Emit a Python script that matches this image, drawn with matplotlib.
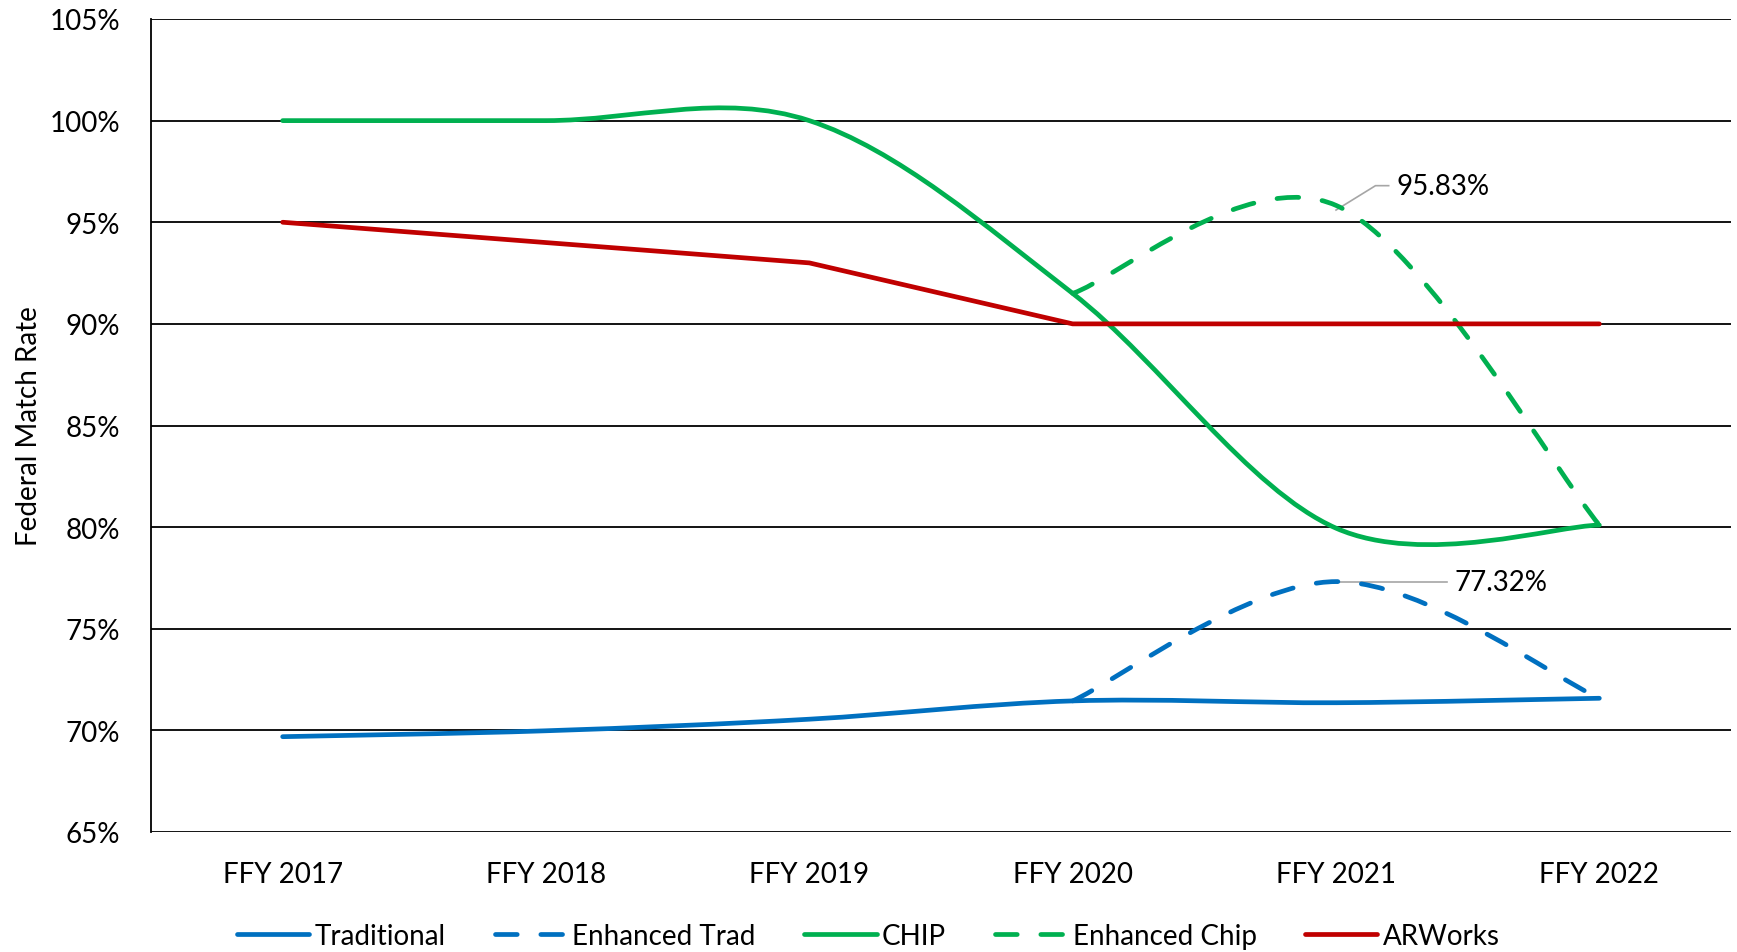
import numpy as np
import matplotlib
matplotlib.use("Agg")
import matplotlib.pyplot as plt
from matplotlib.path import Path
from matplotlib.patches import PathPatch
from matplotlib.lines import Line2D

plt.rcParams["font.family"] = ["Lato", "DejaVu Sans"]

years = ["FFY 2017", "FFY 2018", "FFY 2019", "FFY 2020", "FFY 2021", "FFY 2022"]
traditional = [69.69, 69.98, 70.55, 71.45, 71.36, 71.58]
enhanced_trad = [None, None, None, 71.45, 77.32, 71.58]
chip = [100.0, 100.0, 100.0, 91.5, 79.95, 80.1]
enhanced_chip = [None, None, None, 91.5, 95.83, 80.1]
arworks = [95.0, 94.0, 93.0, 90.0, 90.0, 90.0]

BLUE = "#0070C0"
GREEN = "#00B050"
RED = "#C00000"
FS = 20


def smooth_path(vals):
    # Excel-style smoothed line: cubic bezier through the points
    pts = [(i, v) for i, v in enumerate(vals) if v is not None]
    p = np.array(pts, dtype=float)
    n = len(p)
    verts = [tuple(p[0])]
    codes = [Path.MOVETO]
    for i in range(n - 1):
        p0 = p[i - 1] if i > 0 else p[i]
        p3 = p[i + 2] if i + 2 < n else p[i + 1]
        c1 = p[i] + (p[i + 1] - p0) / 6
        c2 = p[i + 1] - (p3 - p[i]) / 6
        verts += [tuple(c1), tuple(c2), tuple(p[i + 1])]
        codes += [Path.CURVE4] * 3
    return Path(verts, codes)


fig = plt.figure(figsize=(17.37, 9.53), dpi=100)
ax = fig.add_axes([151 / 1737, 1 - 833 / 953, (1731 - 151) / 1737, (833 - 20) / 953])

lw = 3.4
dash = (0, (4.6, 5.0))
for vals, color, ls in [(traditional, BLUE, "-"), (enhanced_trad, BLUE, dash),
                        (chip, GREEN, "-"), (enhanced_chip, GREEN, dash)]:
    patch = PathPatch(smooth_path(vals), facecolor="none", edgecolor=color, lw=lw,
                      linestyle=ls, capstyle="round", joinstyle="round", zorder=3)
    ax.add_patch(patch)
ax.plot(range(len(years)), arworks, color=RED, lw=lw, solid_capstyle="round",
        solid_joinstyle="round", zorder=3)

ax.set_xlim(-0.5, 5.5)
ax.set_ylim(65, 105)
ax.set_yticks(np.arange(65, 106, 5))
ax.set_yticklabels([f"{v}%" for v in range(65, 106, 5)])
ax.set_xticks(range(len(years)))
ax.set_xticklabels(years)
ax.tick_params(length=0, labelsize=FS, colors="black")
ax.tick_params(axis="y", pad=22)
ax.tick_params(axis="x", pad=21)
ax.grid(axis="y", color="black", lw=1.3, zorder=1)
for s in ["top", "right", "bottom"]:
    ax.spines[s].set_visible(False)
ax.spines["left"].set_linewidth(1.3)
ax.set_ylabel("Federal Match Rate", fontsize=FS)
ax.yaxis.set_label_coords(-0.069, 0.5)

# data labels with leader lines
ax.plot([4.0, 4.15, 4.2], [95.6, 96.8, 96.8], color="#A6A6A6", lw=1.2, zorder=2)
ax.text(4.23, 96.8, "95.83%", fontsize=FS, va="center", ha="left")
ax.plot([4.0, 4.42], [77.32, 77.32], color="#A6A6A6", lw=1.2, zorder=2)
ax.text(4.45, 77.32, "77.32%", fontsize=FS, va="center", ha="left")

handles = [
    Line2D([], [], color=BLUE, lw=lw, solid_capstyle="round"),
    Line2D([], [], color=BLUE, lw=lw, ls=dash, dash_capstyle="round"),
    Line2D([], [], color=GREEN, lw=lw, solid_capstyle="round"),
    Line2D([], [], color=GREEN, lw=lw, ls=dash, dash_capstyle="round"),
    Line2D([], [], color=RED, lw=lw, solid_capstyle="round"),
]
labels = ["Traditional", "Enhanced Trad", "CHIP", "Enhanced Chip", "ARWorks"]
fig.legend(handles, labels, loc="center", bbox_to_anchor=(0.5, 1 - 937 / 953), ncol=5,
           frameon=False, fontsize=FS, handlelength=2.6, handletextpad=0.2,
           columnspacing=1.75)

fig.savefig("out.png", dpi=100)
